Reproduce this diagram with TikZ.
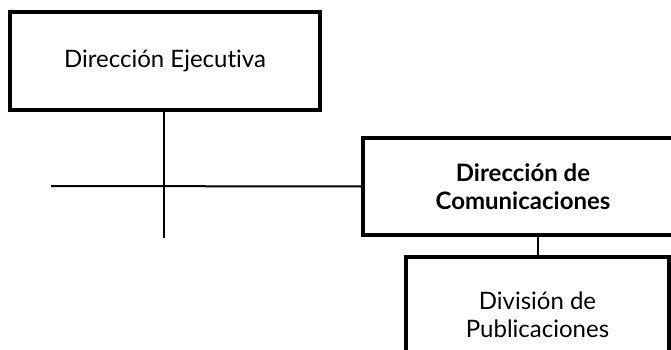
\documentclass[tikz,border=0pt]{standalone}
\usepackage{fontspec}
\setmainfont{Lato}[Ligatures={NoCommon}]
\begin{document}
\begin{tikzpicture}[x=1pt,y=-1pt,
  box/.style={draw=black,line width=3.2pt,fill=white,align=center,inner sep=0pt,
    font=\fontsize{24}{28}\selectfont},
  conn/.style={draw=black,line width=2pt}]
\useasboundingbox (0,0) rectangle (671,350);
\clip (0,0) rectangle (671,350);
\fill[white] (0,0) rectangle (671,350);
\draw[conn] (164,110) -- (164,238) coordinate (vend);
\coordinate (hstart) at (51,186);
\node[box,minimum width=310pt,minimum height=98pt] (ejec) at (165,61) {Dirección Ejecutiva};
\node[box,minimum width=320pt,minimum height=97pt,font=\fontsize{24}{28}\selectfont\bfseries] (comu) at (523,186.5) {Dirección de\\Comunicaciones};
\node[box,minimum width=263pt,minimum height=116pt] (publ) at (537.5,315) {División de\\Publicaciones};
\draw[conn] (ejec.south -| vend) -- (vend);
\draw[conn] (hstart) -- (comu.west);
\draw[conn] (publ.north) -- (publ.north |- comu.south);
\end{tikzpicture}
\end{document}
